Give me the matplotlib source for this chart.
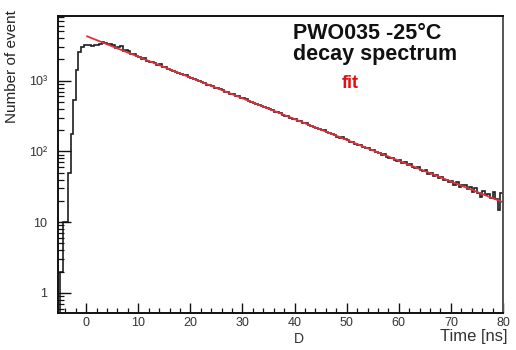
#!/usr/bin/env python3
"""Decay-time spectrum of a PWO crystal at -25 C with an exponential fit."""

import matplotlib as mpl
import matplotlib.pyplot as plt
from matplotlib.ticker import FixedLocator, MultipleLocator, LogLocator, NullFormatter

# histogram: 0.5 ns bins starting at -5 ns
BIN_START = -5.0
BIN_WIDTH = 0.5
COUNTS = [
    2, 10, 10, 50, 175, 540, 1420, 2560, 3000, 3150,          # -5 .. 0
    3150, 3200, 3100, 3150, 3150, 3300, 3500, 3400, 3250, 3300,  # 0 .. 5
    3150, 2850, 2950, 3050, 2650, 2750, 2600, 2350, 2400, 2250,  # 5 .. 10
    2150, 2050, 2080, 1900, 1850, 1820, 1760, 1650, 1700, 1560,  # 10 .. 15
    1540, 1470, 1430, 1380, 1330, 1300, 1250, 1190, 1190, 1120,  # 15 .. 20
    1090, 1060, 1020, 990, 950, 935, 870, 875, 830, 800,         # 20 .. 25
    785, 750, 735, 700, 690, 650, 640, 610, 605, 570,            # 25 .. 30
    560, 545, 515, 500, 490, 465, 460, 440, 420, 410,            # 30 .. 35
    395, 390, 365, 355, 350, 330, 320, 315, 300, 290,            # 35 .. 40
    285, 270, 268, 250, 250, 235, 230, 222, 215, 205,            # 40 .. 45
    200, 198, 188, 180, 175, 172, 162, 155, 158, 148,            # 45 .. 50
    145, 138, 138, 128, 125, 124, 115, 112, 110, 104,            # 50 .. 55
    104, 98, 96, 90, 92, 84, 82, 80, 75, 74,                     # 55 .. 60
    76, 68, 70, 64, 66, 60, 58, 60, 54, 52,                      # 60 .. 65
    54, 48, 50, 45, 47, 42, 44, 40, 39, 37,                      # 65 .. 70
    38, 34, 37, 31, 33, 34, 29, 31, 27, 30,                      # 70 .. 75
    26, 23, 28, 24, 25, 22, 27, 21, 15, 26,                      # 75 .. 80
]

# exponential fit, drawn between its end points
FIT_TIME = [0.2, 80.0]
FIT_COUNTS = [4230, 19.1]

Y_TICKS = [1, 10, 100, 1000]
Y_TICK_LABELS = ["1", "10", "10\u00b2", "10\u00b3"]
X_TICKS = [0, 10, 20, 30, 40, 50, 60, 70, 80]


def main() -> None:
    mpl.rcParams.update({"font.family": ["Liberation Sans", "DejaVu Sans"], "font.size": 9})
    fig = plt.figure(figsize=(5.16, 3.5), dpi=100)
    ax = fig.add_axes([0.1124, 0.1057, 0.8624, 0.8486])

    edges = [BIN_START + i * BIN_WIDTH for i in range(len(COUNTS) + 1)]
    ax.stairs(COUNTS, edges, baseline=0.1, color="#1e1e1e", linewidth=1.2)
    ax.plot(FIT_TIME, FIT_COUNTS, color="#e0303a", linewidth=1.3)

    ax.set_yscale("log")
    ax.set_xlim(-5.4, 80)
    ax.set_ylim(0.52, 8200)

    ax.yaxis.set_major_locator(FixedLocator(Y_TICKS))
    ax.set_yticklabels(Y_TICK_LABELS)
    ax.yaxis.set_minor_locator(LogLocator(base=10, subs=range(2, 10), numticks=20))
    ax.yaxis.set_minor_formatter(NullFormatter())
    ax.set_xticks(X_TICKS)
    ax.xaxis.set_minor_locator(MultipleLocator(2))

    ax.tick_params(axis="both", which="both", direction="in", top=False, right=False, colors="#111111", labelcolor="#333333")
    ax.tick_params(axis="y", which="major", length=9, width=1.0, pad=8, labelsize=9)
    ax.tick_params(axis="y", which="minor", length=4.5, width=0.9)
    ax.tick_params(axis="x", which="major", length=7, width=1.0, pad=3, labelsize=9)
    ax.tick_params(axis="x", which="minor", length=3.5, width=0.9)
    for side in ("left", "bottom", "top"):
        ax.spines[side].set_linewidth(1.4)
        ax.spines[side].set_color("#111111")
    ax.spines["right"].set_linewidth(1.4)
    ax.spines["right"].set_color("#555555")

    fig.text(12 / 516, 1 - 10 / 350, "Number of event", rotation=90, ha="center", va="top", fontsize=11, color="#222222")
    fig.text(507 / 516, 1 - 336 / 350, "Time [ns]", ha="right", va="center", fontsize=12, color="#333333")
    fig.text(299 / 516, 1 - 346 / 350, "D", ha="center", va="bottom", fontsize=10, color="#333333")

    ax.text(0.694, 0.922, "PWO035 -25\u00b0C", transform=ax.transAxes, ha="center", va="baseline", fontsize=15.5, fontweight="bold", color="#111111")
    ax.text(0.712, 0.852, "decay spectrum", transform=ax.transAxes, ha="center", va="baseline", fontsize=15.5, fontweight="bold", color="#111111")
    ax.text(0.656, 0.758, "fit", transform=ax.transAxes, ha="center", va="baseline", fontsize=13, fontweight="bold", color="#e01010")

    fig.savefig("out.png", dpi=100)
    plt.close(fig)


if __name__ == "__main__":
    main()
